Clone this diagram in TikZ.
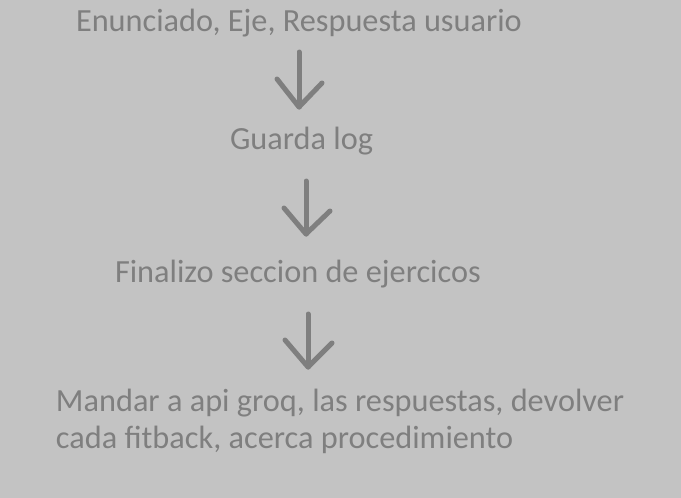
\documentclass[tikz,border=0pt]{standalone}
\usepackage{fontspec}
\setmainfont{Carlito}
\definecolor{bgc}{HTML}{C3C3C3}
\definecolor{fgc}{HTML}{7F7F7F}
\begin{document}
\begin{tikzpicture}[x=1pt,y=-1pt,
  lbl/.style={anchor=base west,inner sep=0pt,outer sep=0pt,text=fgc,font=\fontsize{32.3}{37}\selectfont,align=left},
  arr/.style={draw=fgc,line width=5pt,line cap=round,line join=round}]
\fill[bgc] (0,0) rectangle (681,498);
\useasboundingbox (0,0) rectangle (681,498);
\node[lbl] (t1) at (76,31) {Enunciado, Eje, Respuesta usuario};
\node[lbl] (t2) at (230,149) {Guarda log};
\node[lbl] (t3) at (115,282) {Finalizo seccion de ejercicos};
\node[lbl] (t4) at (56,448) {Mandar a api groq, las respuestas, devolver\\cada fitback, acerca procedimiento};
% arrow 1
\coordinate (a1s) at (299,52);
\coordinate (a1t) at (299,107);
\coordinate (a1l) at (277,79);
\coordinate (a1r) at (322,83);
\draw[arr] (a1s) -- (a1t);
\draw[arr] (a1l) -- (a1t) -- (a1r);
% arrow 2
\coordinate (a2s) at (306,181);
\coordinate (a2t) at (306,234);
\coordinate (a2l) at (284,208);
\coordinate (a2r) at (330,211);
\draw[arr] (a2s) -- (a2t);
\draw[arr] (a2l) -- (a2t) -- (a2r);
% arrow 3
\coordinate (a3s) at (308,314);
\coordinate (a3t) at (308,367);
\coordinate (a3l) at (285,340);
\coordinate (a3r) at (332,343);
\draw[arr] (a3s) -- (a3t);
\draw[arr] (a3l) -- (a3t) -- (a3r);
\end{tikzpicture}
\end{document}
